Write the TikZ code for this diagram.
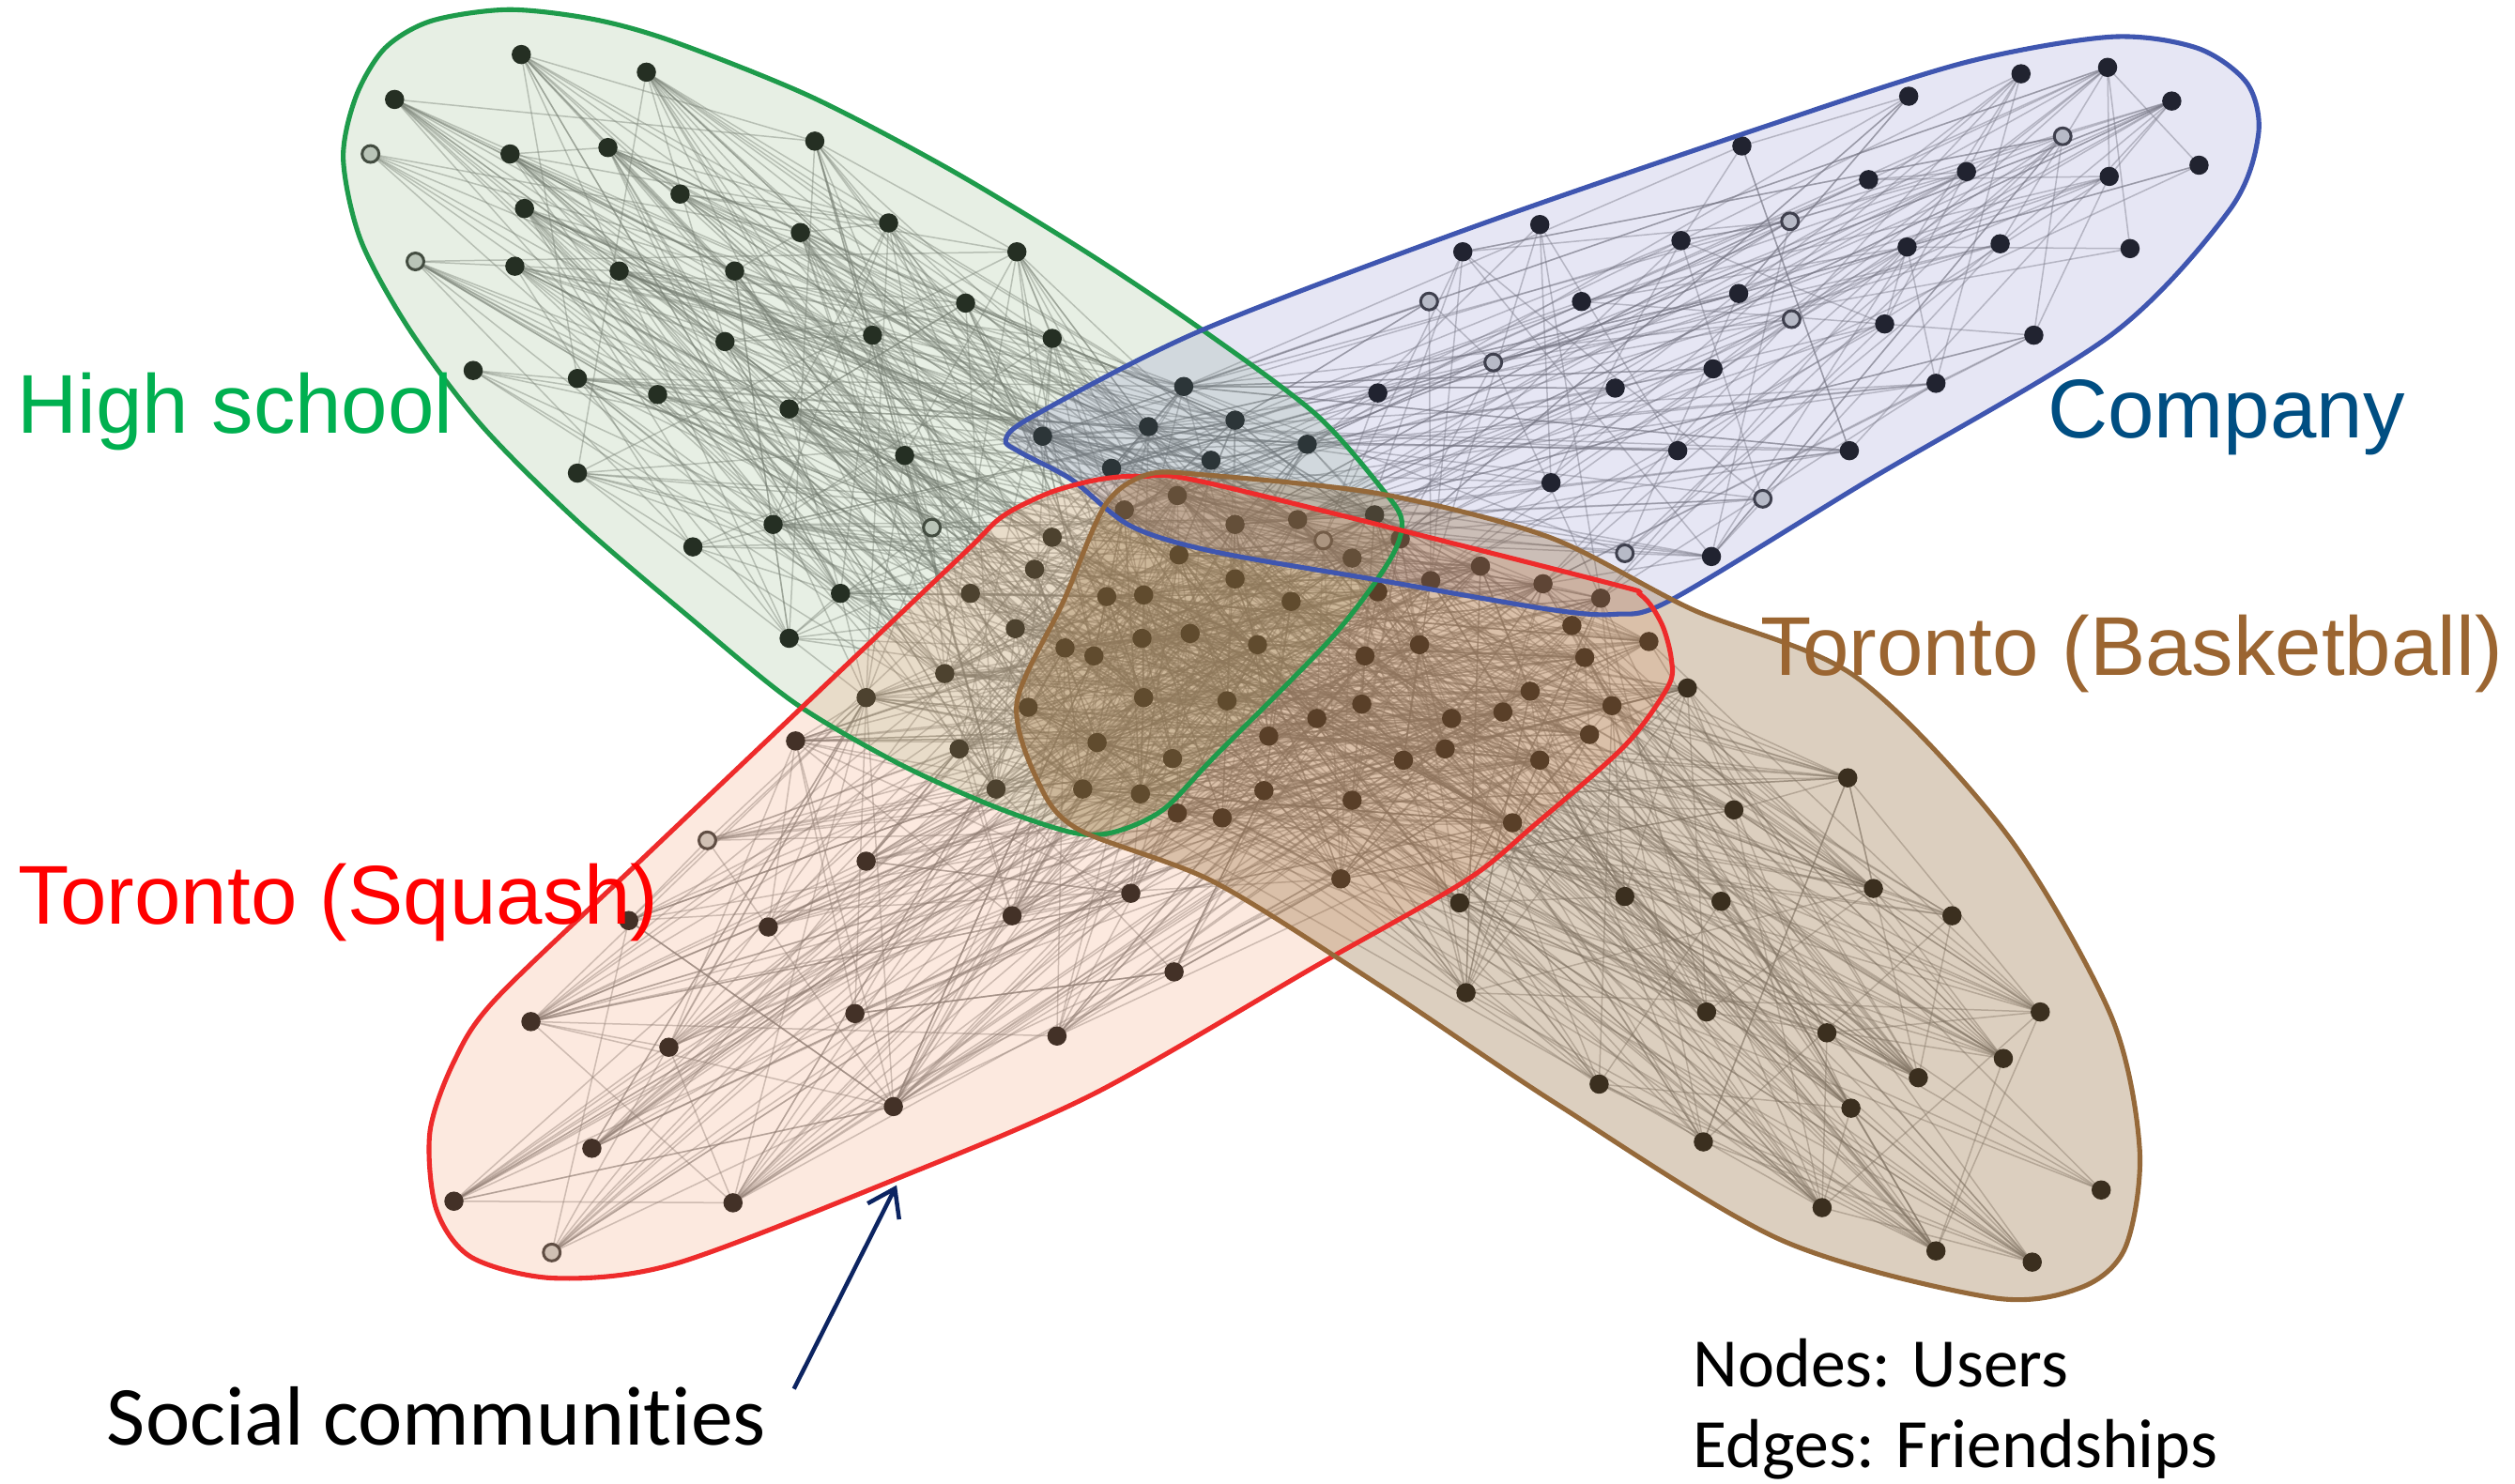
\documentclass[tikz,border=0pt]{standalone}
\usepackage{fontspec}
\setmainfont{Liberation Sans}
\newfontfamily\gillfont[Ligatures=NoCommon]{Carlito}
\usetikzlibrary{arrows.meta}
\pgfdeclarelayer{edgel}
\pgfdeclarelayer{shadel}
\pgfdeclarelayer{frontl}
\pgfsetlayers{edgel,main,shadel,frontl}
\definecolor{dotc}{RGB}{24,26,25}
\definecolor{dotg}{RGB}{200,204,202}
\definecolor{edgec}{RGB}{120,120,120}
\definecolor{hsline}{RGB}{30,155,75}
\definecolor{hsfill}{RGB}{110,160,90}
\definecolor{coline}{RGB}{63,86,176}
\definecolor{cofill}{RGB}{88,88,182}
\definecolor{sqline}{RGB}{238,43,43}
\definecolor{sqfill}{RGB}{240,145,95}
\definecolor{bbline}{RGB}{149,105,58}
\definecolor{bbfill}{RGB}{142,98,45}
\definecolor{hstext}{RGB}{0,176,80}
\definecolor{cotext}{RGB}{0,78,130}
\definecolor{bbtext}{RGB}{155,101,49}
\definecolor{sqtext}{RGB}{255,0,0}
\definecolor{arrc}{RGB}{12,36,97}
\tikzset{
  dk/.style={circle,fill=dotc,inner sep=0pt,minimum size=1.2mm},
  gy/.style={circle,fill=dotg,draw=dotc!85,line width=0.5pt,inner sep=0pt,minimum size=1.05mm},
  lnk/.style={draw=edgec,line width=0.25pt,opacity=0.42},
  outl/.style={line width=0.85pt},
  biglabel/.style={anchor=base west,inner sep=0pt,font=\fontsize{14.8pt}{17pt}\selectfont},
  gilllabel/.style={anchor=base west,inner sep=0pt,font=\gillfont\fontsize{14.9pt}{17pt}\selectfont},
  smalllabel/.style={anchor=base west,inner sep=0pt,font=\gillfont\fontsize{12.3pt}{15pt}\selectfont},
}
\newcommand\randlinks[3]{%
  \foreach \k in {1,...,#3}{%
    \pgfmathtruncatemacro\ea{#1[random(0,#2-1)]}%
    \pgfmathtruncatemacro\eb{#1[random(0,#2-1)]}%
    \draw[lnk] (n\ea.center) -- (n\eb.center);
  }}
\def\greenlist{{1,2,3,4,5,6,7,8,9,10,11,12,13,14,15,16,17,18,19,20,21,22,23,24,25,26,27,28,29,30,31,32,33,34,35,36,37,38,73,74,75,76,77,78,80,81,82,83,84,90,91,92,93,96,97,98,99,100,101,105,106,107,108,109,123,124,125,126,127,128}}
\def\bluelist{{32,33,34,35,36,37,38,39,40,41,42,43,44,45,46,47,48,49,50,51,52,53,54,55,56,57,58,59,60,61,62,63,64,65,66,67,68,69,70,71,72,73,74,75,76,77,78,79,81,86,87,88,89}}
\def\redlist{{73,74,75,76,77,78,79,80,81,82,83,84,85,86,87,88,89,90,91,92,93,94,95,96,97,98,99,100,101,102,103,104,105,106,107,108,109,110,111,113,114,115,116,117,118,119,120,121,122,123,124,125,126,127,128,129,130,131,132,133,134,135,136,137,140,141,142,143,144,145,146,147,148,149,150,151,152}}
\def\brownlist{{73,74,75,76,77,78,79,81,82,84,85,86,87,88,89,91,92,93,94,95,97,98,99,100,101,102,103,104,107,108,109,110,111,112,113,114,115,116,117,118,119,120,121,124,125,127,128,129,130,131,132,133,136,138,139,153,154,155,156,157,158,159,160,161,162,163,164,165,166,167,168,169,170}}
\def\greenshape{(214,99) (222,60) (240,30) (269,13) (317,6) (370,12) (420,26) (505,60) (591,105) (677,157) (750,206) (820,258) (861,304) (874,325) (866,350) (830,398) (757,472) (725,505) (694,519) (668,519) (620,503) (560,476) (495,438) (430,385) (360,325) (300,265) (255,205) (225,150)}
\def\blueshape{(627,274) (645,259) (749,206) (920,141) (1103,78) (1225,39) (1316,23) (1370,30) (1401,52) (1408,84) (1390,131) (1316,209) (1164,300) (1042,374) (1007,383) (966,380) (861,362) (757,344) (705,328) (668,299) (636,282)}
\def\redshape{(268,706) (283,662) (309,623) (400,536) (500,441) (600,346) (625,322) (655,307) (685,299) (712,297) (757,302) (997,362) (1023,371) (1036,389) (1042,411) (1040,428) (1013,465) (956,515) (914,549) (821,602) (682,682) (559,735) (421,788) (346,797) (294,784) (272,754)}
\def\brownshape{(715,296) (689,315) (663,375) (634,438) (647,487) (672,517) (757,550) (861,615) (970,688) (1110,773) (1241,809) (1297,803) (1325,778) (1334,717) (1316,633) (1251,520) (1157,422) (1055,380) (966,335) (861,308) (750,296)}
\begin{document}
\begin{tikzpicture}[x=0.1mm,y=-0.1mm]
\useasboundingbox (0,0) rectangle (1568,925);
\begin{pgfonlayer}{edgel}
\fill[white] (0,0) rectangle (1568,925);
\end{pgfonlayer}
% users
\foreach \i/\x/\y/\s in {1/325/34/dk, 2/403/45/dk, 3/246/62/dk, 4/231/96/gy, 5/318/96/dk, 6/379/92/dk, 7/508/88/dk, 8/424/121/dk, 9/327/130/dk, 10/499/145/dk, 11/554/139/dk, 12/634/157/dk, 13/259/163/gy, 14/321/166/dk, 15/386/169/dk, 16/458/169/dk, 17/602/189/dk, 18/452/213/dk, 19/544/209/dk, 20/656/211/dk, 21/295/231/dk, 22/360/236/dk, 23/410/246/dk, 24/492/255/dk, 25/564/284/dk, 26/360/295/dk, 27/482/327/dk, 28/432/341/dk, 29/581/329/gy, 30/524/370/dk, 31/492/398/dk, 32/738/241/dk, 33/716/266/dk, 34/770/262/dk, 35/650/272/dk, 36/815/277/dk, 37/693/292/dk, 38/755/287/dk,
39/1314/42/dk, 40/1260/46/dk, 41/1190/60/dk, 42/1354/63/dk, 43/1286/85/gy, 44/1371/103/dk, 45/1086/91/dk, 46/1165/112/dk, 47/1226/107/dk, 48/1315/110/dk, 49/1116/138/gy, 50/1328/155/dk, 51/960/140/dk, 52/912/157/dk, 53/1048/150/dk, 54/1189/154/dk, 55/1247/152/dk, 56/891/188/gy, 57/986/188/dk, 58/1084/183/dk, 59/1117/199/gy, 60/1175/202/dk, 61/1268/209/dk, 62/931/226/gy, 63/1068/230/dk, 64/1007/242/dk, 65/859/245/dk, 66/1207/239/dk, 67/1046/281/dk, 68/1153/281/dk, 69/967/301/dk, 70/1099/311/gy, 71/1013/345/gy, 72/1067/347/dk,
73/734/309/dk, 74/701/318/dk, 75/857/321/dk, 76/770/327/dk, 77/809/324/dk, 78/825/337/gy, 79/873/336/dk, 80/656/335/dk, 81/843/348/dk, 82/735/346/dk, 83/645/355/dk, 84/770/361/dk, 85/859/369/dk, 86/892/362/dk, 87/923/353/dk, 88/962/364/dk, 89/998/373/dk, 90/605/370/dk, 91/690/372/dk, 92/713/371/dk, 93/805/375/dk, 94/980/390/dk, 95/1028/400/dk, 96/633/392/dk, 97/712/398/dk, 98/742/395/dk, 99/664/404/dk, 100/682/409/dk, 101/784/402/dk, 102/851/409/dk, 103/885/402/dk, 104/988/410/dk, 105/589/420/dk, 106/540/435/dk, 107/713/435/dk, 108/765/437/dk, 109/641/441/dk, 110/954/431/dk, 111/1005/440/dk, 112/1052/429/dk, 113/849/439/dk, 114/821/448/dk, 115/905/448/dk, 116/937/444/dk, 117/991/458/dk, 118/791/459/dk, 119/901/467/dk, 120/875/474/dk, 121/960/474/dk, 122/496/462/dk, 123/598/467/dk, 124/684/463/dk, 125/731/473/dk, 126/621/492/dk, 127/675/492/dk, 128/711/495/dk, 129/788/493/dk, 130/843/499/dk, 131/734/507/dk, 132/762/510/dk, 133/943/513/dk, 134/441/524/gy, 135/540/537/dk, 136/836/548/dk, 137/705/557/dk, 138/910/563/dk, 139/1013/559/dk, 140/631/571/dk, 141/479/578/dk, 142/392/574/dk, 143/732/606/dk,
144/331/637/dk, 145/417/653/dk, 146/533/632/dk, 147/659/646/dk, 148/557/690/dk, 149/369/716/dk, 150/283/749/dk, 151/457/750/dk, 152/344/781/gy,
153/1152/485/dk, 154/1081/505/dk, 155/1168/554/dk, 156/1217/571/dk, 157/1073/562/dk, 158/914/619/dk, 159/1064/631/dk, 160/1139/644/dk, 161/1272/631/dk, 162/1249/660/dk, 163/1196/672/dk, 164/1154/691/dk, 165/997/676/dk, 166/1062/712/dk, 167/1136/753/dk, 168/1207/780/dk, 169/1267/787/dk, 170/1310/742/dk}
  {\node[\s] (n\i) at (\x,\y) {};}
% friendships
\begin{pgfonlayer}{edgel}
\pgfmathsetseed{4711}
\randlinks{\greenlist}{70}{480}
\randlinks{\bluelist}{53}{210}
\randlinks{\redlist}{77}{540}
\randlinks{\brownlist}{73}{500}
\end{pgfonlayer}
% community shading
\begin{pgfonlayer}{shadel}
\fill[hsfill,opacity=0.16] plot[smooth cycle,tension=0.5] coordinates {\greenshape};
\fill[cofill,opacity=0.15] plot[smooth cycle,tension=0.5] coordinates {\blueshape};
\fill[sqfill,opacity=0.2] plot[smooth cycle,tension=0.5] coordinates {\redshape};
\fill[bbfill,opacity=0.3] plot[smooth cycle,tension=0.5] coordinates {\brownshape};
\end{pgfonlayer}
\begin{pgfonlayer}{frontl}
\draw[outl,hsline] plot[smooth cycle,tension=0.5] coordinates {\greenshape};
\draw[outl,coline] plot[smooth cycle,tension=0.5] coordinates {\blueshape};
\draw[outl,sqline] plot[smooth cycle,tension=0.5] coordinates {\redshape};
\draw[outl,bbline] plot[smooth cycle,tension=0.5] coordinates {\brownshape};
% labels
\node[biglabel,text=hstext] (lhs) at (10,270) {High school};
\node[biglabel,text=cotext] (lco) at (1276,273) {Company};
\node[biglabel,text=bbtext] (lbb) at (1097,421) {Toronto (Basketball)};
\node[biglabel,text=sqtext] (lsq) at (11,576) {Toronto (Squash)};
\node[gilllabel] (lsoc) at (66,901) {Social communities};
\node[smalllabel] (lnodes) at (1055,865) {Nodes: Users};
\node[smalllabel] (ledges) at (1055,915) {Edges: Friendships};
\coordinate (atail) at (495,866);
\coordinate (atip) at (559,739);
\draw[arrc,line width=0.75pt,-{Straight Barb[length=1.6mm,width=2.2mm]}] (atail) -- (atip);
\end{pgfonlayer}
\end{tikzpicture}
\end{document}
